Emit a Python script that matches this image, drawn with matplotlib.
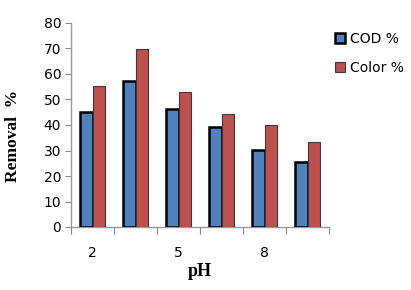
import matplotlib
matplotlib.use("Agg")
import matplotlib.pyplot as plt
import numpy as np

categories = ["2", "", "5", "", "8", ""]
cod = [45.0, 57.4, 46.2, 39.4, 30.1, 25.6]
color = [55.4, 69.8, 52.9, 44.2, 40.0, 33.3]
series_names = ["COD %", "Color %"]
yticks = [0, 10, 20, 30, 40, 50, 60, 70, 80]

fig = plt.figure(figsize=(4.11, 2.90), dpi=100)
ax = fig.add_axes([71/411, (290-227)/290, (329-71)/411, (227-23)/290])

x = np.arange(len(categories))
w = 0.28
ax.bar(x - w/2, cod, width=w, color="#4F81BD", edgecolor="black", linewidth=1.8, label=series_names[0], zorder=3)
ax.bar(x + w/2, color, width=w, color="#C0504D", edgecolor="#3a3a3a", linewidth=0.8, label=series_names[1], zorder=3)

ax.set_xlim(-0.5, len(categories) - 0.5)
ax.set_ylim(0, 80)
ax.set_yticks(yticks)
ax.set_yticklabels([str(t) for t in yticks], fontsize=10)
ax.set_xticks(np.arange(len(categories) + 1) - 0.5)
ax.set_xticklabels([])
ax.set_xticks(x, minor=True)
ax.set_xticklabels(categories, minor=True, fontsize=10)
ax.tick_params(axis="x", which="minor", length=0, pad=14)
ax.tick_params(axis="x", which="major", length=5, color="#888888", direction="out")
ax.tick_params(axis="y", length=4, color="#888888", direction="out", pad=3)

for s in ["top", "right"]:
    ax.spines[s].set_visible(False)
for s in ["left", "bottom"]:
    ax.spines[s].set_color("#999999")
    ax.spines[s].set_linewidth(1.0)

fig.text(13/411, 1 - 136/290, "Removal  %", rotation=90, ha="center", va="center",
         fontsize=12.5, fontweight="bold", family="Liberation Serif")
fig.text(200/411, 1 - 271/290, "pH", ha="center", va="center",
         fontsize=13, fontweight="bold", family="Liberation Serif")

leg = ax.legend(loc="upper left", bbox_to_anchor=(329/411, 1 - 26/290), bbox_transform=fig.transFigure,
                frameon=False, fontsize=10, handlelength=0.75, handleheight=0.75,
                labelspacing=1.1, handletextpad=0.35, borderaxespad=0)

fig.savefig("out.png", dpi=100)
